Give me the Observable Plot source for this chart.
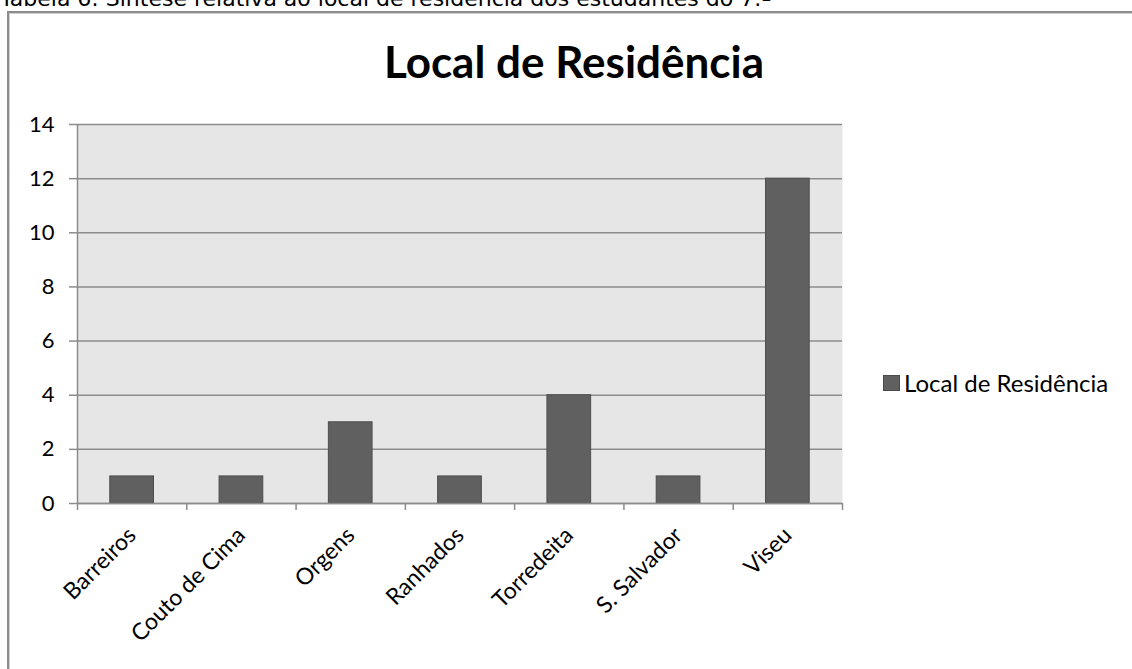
<!DOCTYPE html>
<html><head><meta charset="utf-8">
<script src="https://cdn.jsdelivr.net/npm/d3@7"></script>
<script src="https://cdn.jsdelivr.net/npm/@observablehq/plot@0.6"></script>
<style>
html,body{margin:0;padding:0;background:#fff;}
body{width:1132px;height:669px;overflow:hidden;position:relative;font-family:Lato,sans-serif;}
#cap{position:absolute;left:0;top:-14px;line-height:26px;font-family:"DejaVu Sans",sans-serif;font-size:22px;white-space:nowrap;color:#000;}
#frame{position:absolute;left:7px;top:11px;width:1140px;height:700px;border-left:2px solid #8c8c8c;border-top:2px solid #8c8c8c;box-shadow:inset 1px 1px 0 #d0d0d0;}
#title{position:absolute;left:0;width:1148px;top:39px;line-height:44px;text-align:center;font-family:Lato,sans-serif;font-weight:bold;font-size:44px;color:#000;}
#chart{position:absolute;left:0;top:0;}
#legend{position:absolute;left:883px;top:369px;display:flex;align-items:center;font-family:Lato,sans-serif;font-size:24px;line-height:28px;color:#000;}
#legend .sw{width:17px;height:16px;background:#606060;border:1px solid #4a4a4a;box-sizing:border-box;margin-right:4px;}
</style></head>
<body>
<div id="cap">Tabela 6: Síntese relativa ao local de residência dos estudantes do 7.º</div>
<div id="frame"></div>
<div id="title"></div>
<div id="chart"></div>
<div id="legend"><div class="sw"></div><span id="legtext"></span></div>
<script>
const chartTitle = "Local de Residência";
const seriesName = "Local de Residência";
const categories = ["Barreiros","Couto de Cima","Orgens","Ranhados","Torredeita","S. Salvador","Viseu"];
const values = [1,1,3,1,4,1,12];
const yTicks = [0,2,4,6,8,10,12,14];

document.getElementById("title").textContent = chartTitle;
document.getElementById("legtext").textContent = seriesName;

const data = categories.map((c,i)=>({c, i, v: values[i]}));
const axisColor = "#8c8c8c";

const chart = Plot.plot({
  width:1132, height:669,
  marginLeft:77, marginRight:290, marginTop:124, marginBottom:166,
  x:{domain:[0,categories.length], label:null},
  y:{domain:[0,14], label:null},
  style:{fontFamily:"Lato, sans-serif", fontSize:"22px", color:"#000", background:"transparent", overflow:"visible"},
  marks:[
    Plot.frame({fill:"#e6e6e6", stroke:null}),
    Plot.gridY(yTicks, {stroke:axisColor, strokeOpacity:1, strokeWidth:1.5}),
    Plot.rectY(data, {x1:d=>d.i+0.3, x2:d=>d.i+0.7, y:"v", fill:"#606060", stroke:"#4d4d4d", strokeWidth:1}),
    Plot.ruleX([0], {stroke:axisColor, strokeWidth:1.5}),
    Plot.ruleY([0], {stroke:axisColor, strokeWidth:1.5}),
    Plot.axisY(yTicks, {label:null, tickSize:8, tickPadding:15, stroke:axisColor, strokeWidth:1.5, strokeOpacity:1, fontSize:22, fill:"#000"}),
    Plot.axisX(d3.range(0,categories.length+1), {label:null, tickSize:7, stroke:axisColor, strokeWidth:1.5, strokeOpacity:1, tickFormat:()=>""}),
    Plot.axisX(categories.map((c,i)=>i+0.5), {label:null, tickSize:0, tickRotate:-45, tickPadding:28, fontSize:23, fill:"#000", tickFormat:d=>categories[Math.round(d-0.5)]})
  ]
});
document.getElementById("chart").appendChild(chart);
</script>
</body></html>
